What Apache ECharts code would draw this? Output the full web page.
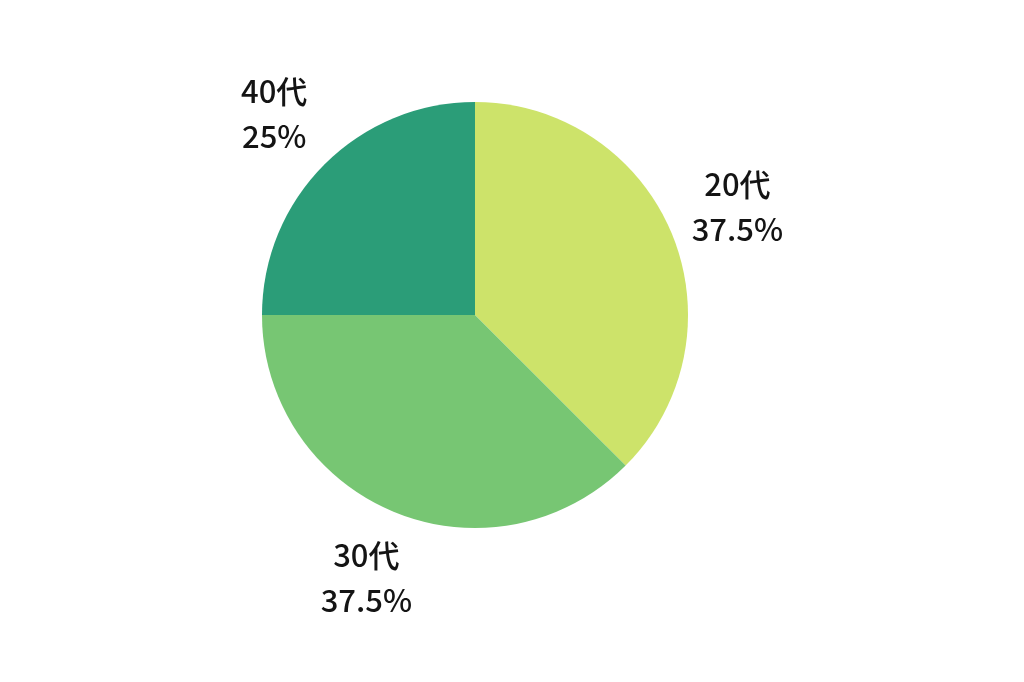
<!DOCTYPE html>
<html><head><meta charset="utf-8">
<script src="https://cdn.jsdelivr.net/npm/echarts@6/dist/echarts.min.js"></script>
<style>html,body{margin:0;padding:0;background:#fff}#c{width:1024px;height:682px}</style>
</head><body><div id="c"></div>
<script>
var categories = ['20代', '30代', '40代'];
var values = [37.5, 37.5, 25];
var colors = ['#cde36a', '#77c673', '#2b9d78'];

var data = categories.map(function (c, i) {
  return { name: c, value: values[i], itemStyle: { color: colors[i] } };
});
var labelData = categories.map(function (c, i) {
  return { name: c, value: values[i] };
});

var chart = echarts.init(document.getElementById('c'), null, { renderer: 'canvas' });
chart.setOption({
  backgroundColor: '#ffffff',
  animation: false,
  series: [
    {
      type: 'pie',
      center: [475, 315],
      radius: [0, 213],
      startAngle: 90,
      clockwise: true,
      label: { show: false },
      labelLine: { show: false },
      itemStyle: { borderWidth: 0 },
      emphasis: { disabled: true },
      data: data
    },
    {
      type: 'pie',
      center: [475, 315],
      radius: [264, 298],
      startAngle: 90,
      clockwise: true,
      silent: true,
      itemStyle: { color: 'rgba(0,0,0,0)' },
      labelLine: { show: false },
      label: {
        show: true,
        position: 'inside',
        formatter: function (p) { return p.name + '\n' + p.value + '%'; },
        color: '#141414',
        fontFamily: '"Noto Sans CJK JP", "Noto Sans", sans-serif',
        fontWeight: 500,
        fontSize: 31,
        lineHeight: 45,
        align: 'center'
      },
      emphasis: { disabled: true },
      data: labelData
    }
  ]
});
</script></body></html>
